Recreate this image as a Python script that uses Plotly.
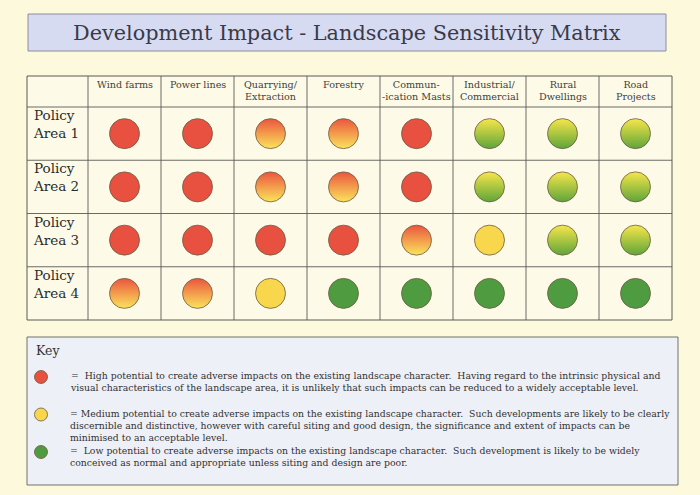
import plotly.graph_objects as go

# ---------------- data ----------------
title_text = "Development Impact - Landscape Sensitivity Matrix"
columns = ["Wind farms", "Power lines", "Quarrying/\nExtraction", "Forestry",
           "Commun-\n-ication Masts", "Industrial/\nCommercial", "Rural\nDwellings", "Road\nProjects"]
rows = ["Policy\nArea 1", "Policy\nArea 2", "Policy\nArea 3", "Policy\nArea 4"]
# H = high (red), HM = high/medium (red->yellow), M = medium (yellow),
# ML = medium/low (yellow->green), L = low (green)
ratings = [
    ["H", "H", "HM", "HM", "H", "ML", "ML", "ML"],
    ["H", "H", "HM", "HM", "H", "ML", "ML", "ML"],
    ["H", "H", "H", "H", "HM", "M", "ML", "ML"],
    ["HM", "HM", "M", "L", "L", "L", "L", "L"],
]
key_levels = ["H", "M", "L"]
key_text = [
    ["=  High potential to create adverse impacts on the existing landscape character.  Having regard to the intrinsic physical and",
     "visual characteristics of the landscape area, it is unlikely that such impacts can be reduced to a widely acceptable level."],
    ["= Medium potential to create adverse impacts on the existing landscape character.  Such developments are likely to be clearly",
     "discernible and distinctive, however with careful siting and good design, the significance and extent of impacts can be",
     "minimised to an acceptable level."],
    ["=  Low potential to create adverse impacts on the existing landscape character.  Such development is likely to be widely",
     "conceived as normal and appropriate unless siting and design are poor."],
]

# ---------------- styles ----------------
RED = "#e8503f"
YEL = "#f8d74c"
GRN = "#4f9b3f"
style = {  # top colour, bottom colour
    "H": (RED, None),
    "HM": ("#eb553d", "#fae45c"),
    "M": (YEL, None),
    "ML": ("#f8e64a", "#5ea53a"),
    "L": (GRN, None),
}
BG = "#fcf9dc"
CELL_BG = "#fdfbe7"
LINE = "#5a5a55"
SERIF = "DejaVu Serif"

W, H = 700, 495
# pixel layout of the table
TBL_L, TBL_R, TBL_T, HDR_B, TBL_B, LAB_R = 27, 672, 76, 107, 320, 88
colw = (TBL_R - LAB_R) / len(columns)
rowh = (TBL_B - HDR_B) / len(rows)
def xu(px):
    return (px - LAB_R) / colw - 0.5
def yu(py):
    return (py - HDR_B) / rowh - 0.5

fig = go.Figure()

# matrix circles
for lvl, (c_top, c_bot) in style.items():
    xs, ys = [], []
    for ri, r in enumerate(ratings):
        for ci, v in enumerate(r):
            if v == lvl:
                xs.append(ci)
                ys.append(ri)
    marker = dict(size=30, color=c_top, line=dict(color="#6a5a45", width=0.8))
    if c_bot:
        marker["gradient"] = dict(type="vertical", color=c_bot)
    fig.add_trace(go.Scatter(x=xs, y=ys, mode="markers", marker=marker,
                             hoverinfo="skip", showlegend=False, cliponaxis=False))

# key circles
for i, lvl in enumerate(key_levels):
    fig.add_trace(go.Scatter(x=[0], y=[i], xaxis="x2", yaxis="y2", mode="markers",
                             marker=dict(size=13, color=style[lvl][0],
                                         line=dict(color="#6a5a45", width=0.8)),
                             hoverinfo="skip", showlegend=False, cliponaxis=False))

shapes = []
def P(px, py):
    return px / W, 1 - py / H

# title box
x0, y0 = P(28, 14); x1, y1 = P(666, 51)
shapes.append(dict(type="rect", xref="paper", yref="paper", x0=x0, y0=y0, x1=x1, y1=y1,
                   fillcolor="#d7dbf2", line=dict(color="#8c8c9c", width=1), layer="below"))
# table background and grid
shapes.append(dict(type="rect", xref="x", yref="y", x0=xu(TBL_L), x1=xu(TBL_R),
                   y0=yu(TBL_T), y1=yu(TBL_B), fillcolor=CELL_BG,
                   line=dict(color=LINE, width=1), layer="below"))
for i in range(len(columns)):
    shapes.append(dict(type="line", xref="x", yref="y", x0=i - 0.5, x1=i - 0.5,
                       y0=yu(TBL_T), y1=yu(TBL_B), line=dict(color=LINE, width=0.9), layer="below"))
for j in range(len(rows)):
    shapes.append(dict(type="line", xref="x", yref="y", x0=xu(TBL_L), x1=xu(TBL_R),
                       y0=j - 0.5, y1=j - 0.5, line=dict(color=LINE, width=0.9), layer="below"))
# key box
x0, y0 = P(27, 337); x1, y1 = P(678, 485)
shapes.append(dict(type="rect", xref="paper", yref="paper", x0=x0, y0=y0, x1=x1, y1=y1,
                   fillcolor="#eef0f8", line=dict(color="#707070", width=1), layer="below"))

ann = []
tx, ty = P(347, 33)
ann.append(dict(text=title_text, xref="paper", yref="paper", x=tx, y=ty, showarrow=False,
                xanchor="center", yanchor="middle",
                font=dict(family=SERIF, size=20.8, color="#3a3a48")))
# column headers
for ci, c in enumerate(columns):
    ann.append(dict(text=c.replace("\n", "<br>"), xref="x", yref="y", x=ci, y=yu(TBL_T),
                    showarrow=False, xanchor="center", yanchor="top", yshift=-1,
                    font=dict(family=SERIF, size=9.6, color="#404040")))
# row labels
for ri, r in enumerate(rows):
    ann.append(dict(text=r.replace("\n", "<br>"), xref="x", yref="y", x=xu(31), y=ri - 0.5,
                    showarrow=False, xanchor="left", yanchor="middle", align="left", yshift=-17,
                    font=dict(family=SERIF, size=13.5, color="#2c2c2c")))
# key
kx, ky = P(34, 350)
ann.append(dict(text="Key", xref="paper", yref="paper", x=kx, y=ky, showarrow=False,
                xanchor="left", yanchor="middle",
                font=dict(family=SERIF, size=12.5, color="#333333")))
for i, lines in enumerate(key_text):
    ann.append(dict(text="<br>".join(lines), xref="x2", yref="y2", x=0, y=i, showarrow=False,
                    xanchor="left", yanchor="top", align="left", xshift=27, yshift=9,
                    font=dict(family=SERIF, size=9.3, color="#303030")))

ax_common = dict(showgrid=False, zeroline=False, showticklabels=False, ticks="",
                 showline=False, fixedrange=True)
fig.update_layout(
    width=W, height=H, margin=dict(l=0, r=0, t=0, b=0),
    paper_bgcolor=BG, plot_bgcolor="rgba(0,0,0,0)",
    xaxis=dict(domain=[0, 1], range=[xu(0), xu(W)], **ax_common),
    yaxis=dict(domain=[0, 1], range=[yu(H), yu(0)], **ax_common),
    xaxis2=dict(domain=[27 / W, 678 / W], range=[-14, 637], anchor="y2", **ax_common),
    yaxis2=dict(domain=[1 - 485 / H, 1 - 337 / H],
                range=[(485 - 377) / 37.5, (337 - 377) / 37.5], anchor="x2", **ax_common),
    shapes=shapes, annotations=ann, showlegend=False,
)
fig.write_html("out.html", config={"displayModeBar": False},
               post_script="document.body.style.margin='0';")
